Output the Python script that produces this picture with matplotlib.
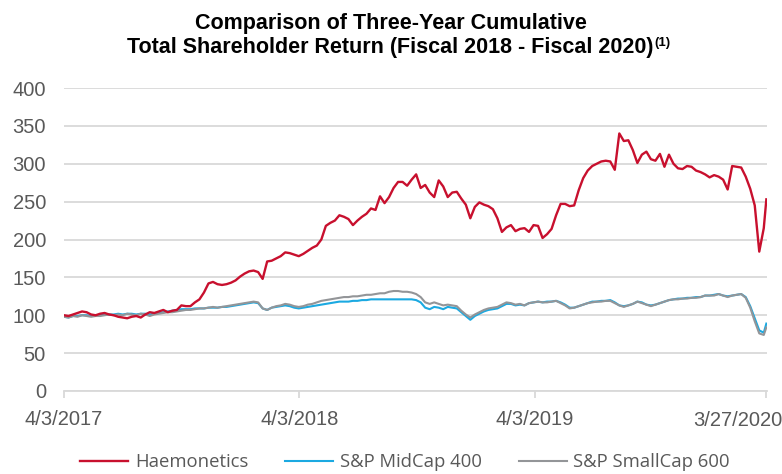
import numpy as np
import pandas as pd
import matplotlib
matplotlib.use('Agg')
import matplotlib.pyplot as plt

# weekly values, 4/3/2017 .. 3/23/2020, plus 3/27/2020
hae = [
    100, 99, 101, 103, 105, 104, 101, 100, 102, 103,
    101, 100, 98, 97, 96, 98, 99, 97, 101, 104,
    103, 105, 107, 104, 106, 107, 113, 112, 112, 117,
    121, 130, 142, 144, 141, 140, 141, 143, 146, 151,
    155, 158, 159, 157, 148, 171, 172, 175, 178, 183,
    182, 180, 178, 181, 185, 189, 192, 200, 218, 222,
    225, 232, 230, 227, 219, 225, 230, 234, 241, 239,
    257, 248, 256, 268, 276, 276, 271, 279, 286, 268,
    272, 262, 256, 278, 270, 256, 262, 263, 254, 246,
    228, 243, 249, 246, 244, 240, 228, 210, 216, 219,
    211, 214, 215, 210, 219, 218, 202, 207, 214, 232,
    247, 247, 244, 245, 265, 281, 291, 297, 300, 303,
    304, 303, 292, 340, 330, 331, 318, 301, 312, 316,
    306, 304, 313, 296, 312, 300, 294, 293, 297, 296,
    291, 289, 286, 282, 285, 283, 279, 266, 297, 296,
    295, 283, 267, 245, 184, 215, 253,
]

midcap = [
    98, 97, 99, 99, 100, 100, 99, 100, 100, 101,
    101, 101, 102, 101, 102, 102, 101, 102, 102, 101,
    102, 103, 104, 105, 106, 107, 108, 108, 108, 109,
    109, 109, 110, 110, 110, 111, 111, 112, 113, 114,
    115, 116, 117, 116, 109, 107, 110, 111, 112, 113,
    112, 110, 109, 110, 111, 112, 113, 114, 115, 116,
    117, 118, 118, 118, 119, 119, 120, 120, 121, 121,
    121, 121, 121, 121, 121, 121, 121, 121, 120, 117,
    110, 108, 111, 110, 108, 111, 110, 109, 104, 99,
    94, 99, 102, 105, 107, 108, 109, 112, 115, 115,
    113, 114, 113, 116, 117, 118, 117, 118, 118, 119,
    117, 114, 110, 110, 112, 114, 116, 118, 118, 119,
    119, 120, 117, 113, 112, 113, 115, 118, 117, 114,
    113, 114, 116, 118, 120, 121, 122, 122, 123, 123,
    124, 124, 126, 126, 127, 128, 126, 125, 126, 127,
    128, 124, 112, 96, 80, 77, 89,
]

smallcap = [
    98, 97, 99, 98, 100, 99, 98, 99, 99, 100,
    101, 100, 101, 100, 102, 101, 100, 102, 101, 99,
    101, 102, 103, 104, 104, 105, 106, 107, 107, 108,
    109, 109, 110, 111, 110, 111, 112, 113, 114, 115,
    116, 117, 118, 117, 109, 107, 110, 112, 113, 115,
    114, 112, 111, 112, 114, 115, 117, 119, 120, 121,
    122, 123, 124, 124, 125, 125, 126, 127, 127, 128,
    129, 129, 131, 132, 132, 131, 131, 130, 128, 124,
    117, 115, 117, 115, 113, 114, 113, 112, 106, 101,
    97, 101, 104, 107, 109, 110, 111, 114, 117, 116,
    114, 115, 113, 116, 117, 118, 117, 117, 118, 119,
    116, 113, 109, 110, 112, 114, 116, 117, 118, 118,
    119, 119, 116, 113, 111, 113, 115, 118, 116, 114,
    112, 114, 116, 118, 120, 121, 121, 122, 122, 123,
    123, 124, 126, 126, 126, 128, 126, 124, 126, 127,
    128, 123, 110, 92, 76, 74, 84,
]

dates = list(pd.date_range('2017-04-03', periods=156, freq='7D')) + [pd.Timestamp('2020-03-27')]

series_names = ['Haemonetics', 'S&P MidCap 400', 'S&P SmallCap 600']
colors = ['#C8102E', '#1BA9E1', '#939598']

tick_dates = ['2017-04-03', '2018-04-03', '2019-04-03', '2020-03-27']
tick_labels = ['4/3/2017', '4/3/2018', '4/3/2019', '3/27/2020']
y_ticks = [0, 50, 100, 150, 200, 250, 300, 350, 400]

txt = '#595959'
grid = '#D9D9D9'

fig = plt.figure(figsize=(7.82, 4.74), dpi=100)
ax = fig.add_axes([64 / 782, 83 / 474, 703 / 782, 303 / 474])

ax.plot(dates, hae, color=colors[0], lw=1.7, label=series_names[0], zorder=4)
ax.plot(dates, midcap, color=colors[1], lw=1.5, label=series_names[1], zorder=3)
ax.plot(dates, smallcap, color=colors[2], lw=1.5, label=series_names[2], zorder=3.5)

ax.set_ylim(0, 400)
ax.set_xlim(pd.Timestamp('2017-04-03'), pd.Timestamp('2020-03-28'))
ax.set_yticks(y_ticks)
ax.yaxis.grid(True, color=grid, lw=1.3)
ax.set_axisbelow(True)
for s in ['top', 'right', 'left']:
    ax.spines[s].set_visible(False)
ax.spines['bottom'].set_color(grid)
ax.spines['bottom'].set_linewidth(1.3)

ax.set_xticks([pd.Timestamp(d) for d in tick_dates])
ax.set_xticklabels(tick_labels[:-1] + [''])
ax.tick_params(axis='x', length=5, width=1.3, color=grid, pad=9,
               labelsize=14.5, labelcolor=txt)
ax.tick_params(axis='y', length=0, pad=13, labelsize=14.5, labelcolor=txt)
for lbl in ax.get_xticklabels() + ax.get_yticklabels():
    lbl.set_family('Liberation Sans')

# last date label sits left of its tick and a little lower
ax.annotate(tick_labels[-1], xy=(pd.Timestamp(tick_dates[-1]), 0),
            xycoords=('data', 'axes fraction'), xytext=(-29, -29),
            textcoords='offset pixels', ha='center', va='center',
            fontsize=14.5, color=txt, family='Liberation Sans')

fig.text(0.5, 1 - 23 / 474, 'Comparison of Three-Year Cumulative',
         ha='center', va='center', fontsize=15.5, fontweight='bold',
         family='Liberation Sans')
t2 = fig.text(390 / 782, 1 - 48 / 474,
              'Total Shareholder Return (Fiscal 2018 - Fiscal 2020)',
              ha='center', va='center', fontsize=15.5, fontweight='bold',
              family='Liberation Sans')
# superscript placed right after the second title line
ax.annotate('(1)', xy=(1, 0.45), xycoords=t2, xytext=(0.5, 0),
            textcoords='offset points', ha='left', va='bottom',
            fontsize=9.5, fontweight='bold', family='Liberation Sans')

fig.legend(loc='center', bbox_to_anchor=(405 / 782, 1 - 462 / 474), ncol=3,
           frameon=False, handlelength=2.6, handletextpad=0.35,
           columnspacing=2.0, prop={'family': 'Open Sans', 'size': 13.3},
           labelcolor=txt)

fig.savefig('out.png', dpi=100)
